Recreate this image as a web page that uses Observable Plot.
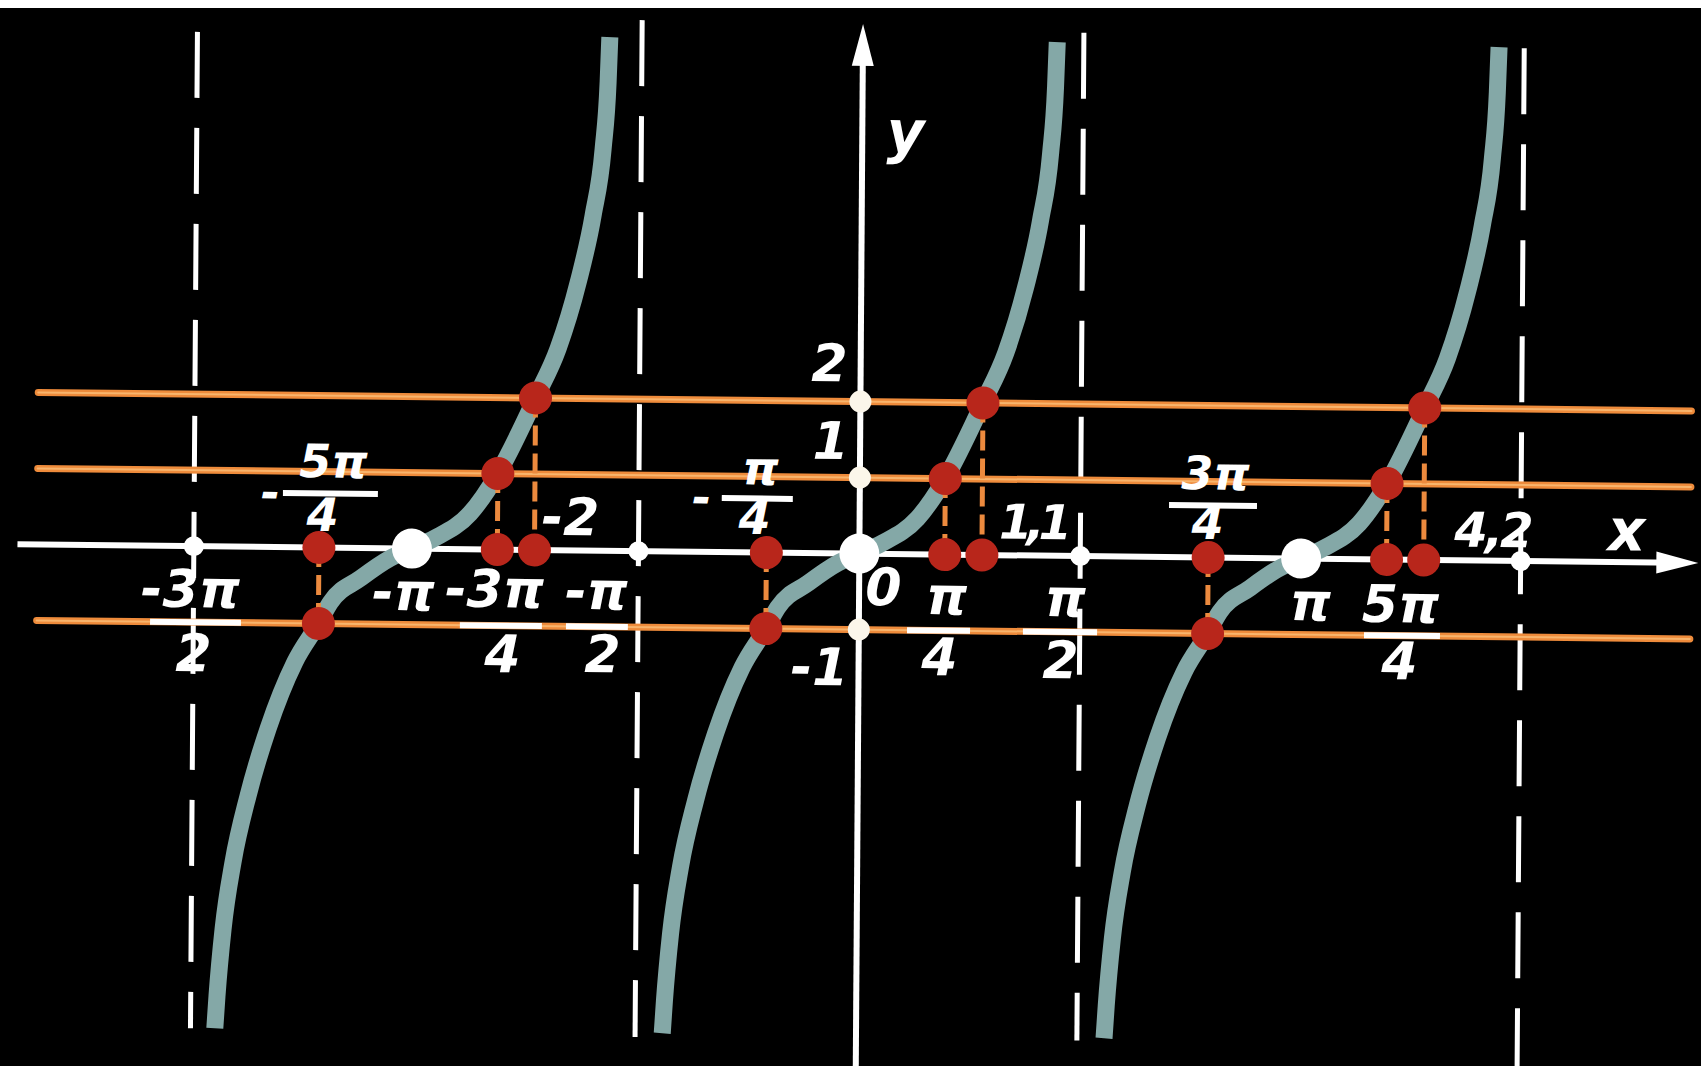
<!DOCTYPE html>
<html>
<head>
<meta charset="utf-8">
<script src="https://cdn.jsdelivr.net/npm/d3@7"></script>
<script src="https://cdn.jsdelivr.net/npm/@observablehq/plot@0.6"></script>
<style>
html, body { margin: 0; padding: 0; background: #000; overflow: hidden; width: 1701px; height: 1066px; }
#chart { position: absolute; left: 0; top: 0; width: 1701px; height: 1066px; }
#chart svg { display: block; transform: matrix(1, 0.0112, -0.007, 1, 0, 0); transform-origin: 850px 533px; }
#strip { position: absolute; left: 0; top: 0; width: 1701px; height: 8px; background: #fff; }
</style>
</head>
<body>
<div id="chart"></div>
<div id="strip"></div>
<script>
// ---- data (x in radians, y in y-units) ----
// centres (zeros) of the three tangent branches
const branchCenters = [-3.18, 0, 3.14];
// one branch of the drawn curve, x measured from its zero
const curveDX = [-1.377, -1.363, -1.323, -1.256, -1.152, -1.013, -0.827, -0.661, -0.577, -0.366, -0.154, 0, 0.16, 0.411, 0.607, 0.871, 1.029, 1.168, 1.271, 1.339, 1.371, 1.381];
const curveY  = [-6.34, -5.91, -5.03, -4.153, -3.273, -2.388, -1.512, -1.0, -0.72, -0.40, -0.13, 0, 0.14, 0.47, 1.0, 2.0, 2.654, 3.526, 4.41, 5.29, 6.166, 6.758];
// vertical asymptotes
const asymptoteX      = [-4.73, -1.57, 1.57, 4.70];
const asymptoteTop    = [6.76, 6.98, 6.88, 6.74];
const asymptoteBottom = [-6.35, -6.40, -6.38, -6.80];
// horizontal levels y = a and where the curve meets them (offset from the branch zero)
const levelY       = [2, 1, -1];
const levelOffsets = [0.871, 0.607, -0.661];
const levelLineX   = [-5.84, 5.91];
// marks on the y axis
const yAxisMarks = [2, 1, -1];
// axes extents
const xAxisExtent = [-5.98, 5.963];
const yAxisExtent = [-6.8, 6.97];

// labels below the x axis and on the y axis
const labelTexts = ["-3π", "2", "-π", "-3π", "4", "-π", "2", "-2", "0", "π", "4", "π", "2", "π", "5π", "4", "2", "1", "-1"];
const labelXs    = [-4.752, -4.727, -3.238, -2.591, -2.531, -1.866, -1.820, -2.055, 0.173, 0.622, 0.575, 1.467, 1.435, 3.209, 3.849, 3.844, -0.222, -0.210, -0.278];
const labelYs    = [-0.584, -1.426, -0.592, -0.539, -1.393, -0.55, -1.379, 0.42, -0.456, -0.565, -1.368, -0.574, -1.39, -0.59, -0.603, -1.354, 2.484, 1.46, -1.518];
// fraction labels above the x axis
const upperTexts = ["-", "5π", "4", "-", "π", "4", "3π", "4"];
const upperXs    = [-4.188, -3.742, -3.817, -1.124, -0.707, -0.747, 2.527, 2.473];
const upperYs    = [0.704, 1.118, 0.412, 0.70, 1.089, 0.436, 1.09, 0.437];
// read values of arctan 2 (+ kπ)
const valueTexts = ["1,1", "4,2"];
const valueXs    = [1.229, 4.498];
const valueYs    = [0.421, 0.384];
const axisNames  = ["x", "y"];
const axisNameXs = [5.451, 0.307];
const axisNameYs = [0.40, 5.534];
// fraction bars
const barX1 = [-5.034, -4.096, -2.832, -2.078, -0.977, 0.346, 1.170, 2.202, 3.594];
const barX2 = [-4.388, -3.421, -2.249, -1.638, -0.472, 0.794, 1.697, 2.827, 4.134];
const barY  = [-1, 0.713, -1, -1, 0.71, -1, -1, 0.686, -1];

// ---- layout ----
const W = 1701, H = 1066;
const originPx = [859, 553];
const pxPerRad = 140.7, pxPerUnit = 76;

// ---- tables built from the arrays ----
const curveRows = branchCenters.flatMap((c, b) => curveDX.map((dx, i) => ({branch: b, x: c + dx, y: curveY[i]})));
const asymRows = asymptoteX.map((x, i) => ({x, top: asymptoteTop[i], bottom: asymptoteBottom[i]}));
const levelRows = levelY.map(y => ({y, x1: levelLineX[0], x2: levelLineX[1]}));
const hitRows = branchCenters.flatMap(c => levelY.map((y, j) => ({x: c + levelOffsets[j], y})));
const footRows = hitRows.map(d => ({x: d.x, y: 0}));
const zeroRows = branchCenters.map(x => ({x, y: 0}));
const asymFootRows = asymptoteX.map(x => ({x, y: 0}));
const yMarkRows = yAxisMarks.map(y => ({x: 0, y}));
const labelRows = labelTexts.map((t, i) => ({text: t, x: labelXs[i], y: labelYs[i]}));
const upperRows = upperTexts.map((t, i) => ({text: t, x: upperXs[i], y: upperYs[i]}));
const valueRows = valueTexts.map((t, i) => ({text: t, x: valueXs[i], y: valueYs[i]}));
const nameRows = axisNames.map((t, i) => ({text: t, x: axisNameXs[i], y: axisNameYs[i]}));
const barRows = barX1.map((x1, i) => ({x1, x2: barX2[i], y: barY[i]}));

const arrowHead = {
  draw(context) {
    context.moveTo(0, 0);
    context.lineTo(-11, 42);
    context.lineTo(11, 42);
    context.closePath();
  }
};

const font = {fill: "white", fontFamily: "DejaVu Sans", fontWeight: "bold", fontStyle: "italic", textAnchor: "middle", lineAnchor: "middle"};

const chart = Plot.plot({
  width: W, height: H,
  marginTop: 0, marginRight: 0, marginBottom: 0, marginLeft: 0,
  style: {background: "black", overflow: "visible"},
  x: {domain: [-originPx[0] / pxPerRad, (W - originPx[0]) / pxPerRad], range: [0, W], axis: null},
  y: {domain: [-(H - originPx[1]) / pxPerUnit, originPx[1] / pxPerUnit], range: [H, 0], axis: null},
  marks: [
    // asymptotes
    Plot.ruleX(asymRows, {x: "x", y1: "top", y2: "bottom", stroke: "white", strokeWidth: 5, strokeDasharray: "66,30"}),
    // horizontal levels
    Plot.ruleY(levelRows, {y: "y", x1: "x1", x2: "x2", stroke: "#ee8b3b", strokeWidth: 7, strokeLinecap: "round"}),
    Plot.ruleY(levelRows, {y: "y", x1: "x1", x2: "x2", stroke: "#f8b46c", strokeWidth: 2, strokeLinecap: "round"}),
    // axes
    Plot.ruleY([0], {x1: () => xAxisExtent[0], x2: () => xAxisExtent[1] - 0.15, stroke: "white", strokeWidth: 6}),
    Plot.ruleX([0], {y1: () => yAxisExtent[0], y2: () => yAxisExtent[1] - 0.3, stroke: "white", strokeWidth: 6}),
    Plot.dot([{x: xAxisExtent[1], y: 0}], {x: "x", y: "y", symbol: arrowHead, fill: "white", stroke: "none", rotate: 90}),
    Plot.dot([{x: 0, y: yAxisExtent[1]}], {x: "x", y: "y", symbol: arrowHead, fill: "white", stroke: "none"}),
    // tangent branches
    Plot.line(curveRows, {x: "x", y: "y", z: "branch", stroke: "#84a8a7", strokeWidth: 17, curve: "monotone-x", strokeLinecap: "butt"}),
    // dashed connectors
    Plot.ruleX(hitRows, {x: "x", y1: "y", y2: () => 0, stroke: "#ec8a3e", strokeWidth: 5, strokeDasharray: "20,8"}),
    // fraction bars
    Plot.ruleY(barRows, {y: "y", x1: "x1", x2: "x2", stroke: "white", strokeWidth: 6}),
    // points
    Plot.dot(asymFootRows, {x: "x", y: "y", r: 10, fill: "white"}),
    Plot.dot(yMarkRows, {x: "x", y: "y", r: 11, fill: "#fbf6ea"}),
    Plot.dot(zeroRows, {x: "x", y: "y", r: 20, fill: "white"}),
    Plot.dot(hitRows, {x: "x", y: "y", r: 16.5, fill: "#b8261b"}),
    Plot.dot(footRows, {x: "x", y: "y", r: 16.5, fill: "#b8261b"}),
    // labels
    Plot.text(labelRows, {x: "x", y: "y", text: "text", fontSize: 52, ...font}),
    Plot.text(upperRows, {x: "x", y: "y", text: "text", fontSize: 46, ...font}),
    Plot.text(valueRows, {x: "x", y: "y", text: "text", fontSize: 48, className: "value-labels", ...font}),
    Plot.text(nameRows, {x: "x", y: "y", text: "text", fontSize: 58, ...font})
  ]
});

chart.querySelectorAll(".value-labels text").forEach(t => {
  t.setAttribute("letter-spacing", t.textContent === "1,1" ? "-6" : "-3");
});
document.getElementById("chart").appendChild(chart);
</script>
</body>
</html>
